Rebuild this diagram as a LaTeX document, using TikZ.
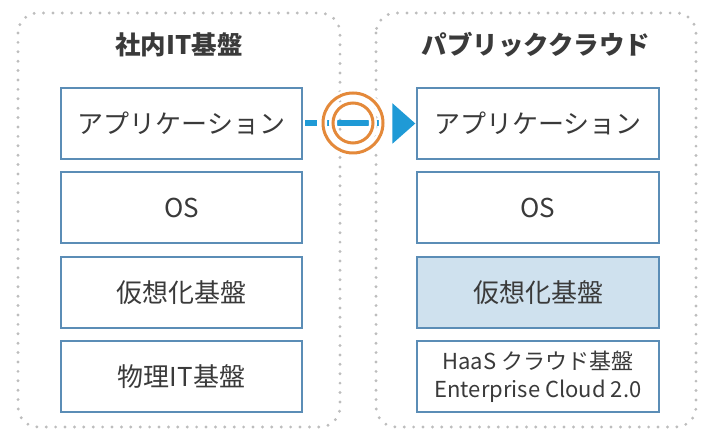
\documentclass[tikz,border=0pt]{standalone}
\usepackage{fontspec}
\setmainfont{Noto Sans CJK JP}
\usetikzlibrary{arrows.meta}
\definecolor{txt}{HTML}{3A3A3A}
\definecolor{boxline}{HTML}{5B8DB6}
\definecolor{boxfill}{HTML}{CFE1EE}
\definecolor{dotgray}{HTML}{BDBDBD}
\definecolor{arrowblue}{HTML}{1F9AD6}
\definecolor{ringorange}{HTML}{E4893A}
\tikzset{
  container/.style={draw=dotgray, line width=3.2pt, line cap=round,
    dash pattern=on 0pt off 9.4pt, rounded corners=20pt},
  layerbox/.style={draw=boxline, line width=2.2pt, fill=white,
    minimum height=71pt, text=txt, font=\fontsize{26}{30}\selectfont,
    inner sep=0pt, align=center},
  leftbox/.style={layerbox, minimum width=241pt},
  rightbox/.style={layerbox, minimum width=242pt},
  title/.style={text=txt, font=\fontsize{25.5}{30}\selectfont\bfseries},
  halo/.style={draw=white, line width=8pt},
  ring/.style={draw=ringorange, line width=3pt},
}
\begin{document}
\begin{tikzpicture}[x=1pt, y=-1pt]
\useasboundingbox (0,0) rectangle (707,430);
% containers
\draw[container] (18,13) rectangle (340,427);
\draw[container] (376,13) rectangle (696,427);
% titles
\node[title] (t1) at (179,45) {社内IT基盤};
\node[title] (t2) at (536,45) {パブリッククラウド};
% left column
\node[leftbox] (l1) at (181.5,123.5) {アプリケーション};
\node[leftbox] (l2) at (181.5,207.5) {OS};
\node[leftbox] (l3) at (181.5,292.5) {仮想化基盤};
\node[leftbox] (l4) at (181.5,376.5) {物理IT基盤};
% right column
\node[rightbox] (r1) at (538,123.5) {アプリケーション};
\node[rightbox] (r2) at (538,207.5) {OS};
\node[rightbox, fill=boxfill] (r3) at (538,292.5) {仮想化基盤};
\node[rightbox, font=\fontsize{22}{28}\selectfont] (r4) at (538,376.5) {HaaS クラウド基盤\\Enterprise Cloud 2.0};
% arrow
\draw[arrowblue, line width=6pt, dash pattern=on 12pt off 9pt on 54pt off 13pt,
  -{Triangle[length=23pt, width=39pt]}, shorten <=2pt, shorten >=0.5pt]
  (l1.east) -- (r1.west);
% rings
\coordinate (rc) at (353,123);
\draw[halo] (rc) circle[radius=30pt];
\draw[halo] (rc) circle[radius=20pt];
\draw[ring] (rc) circle[radius=30pt];
\draw[ring] (rc) circle[radius=20pt];
\end{tikzpicture}
\end{document}
